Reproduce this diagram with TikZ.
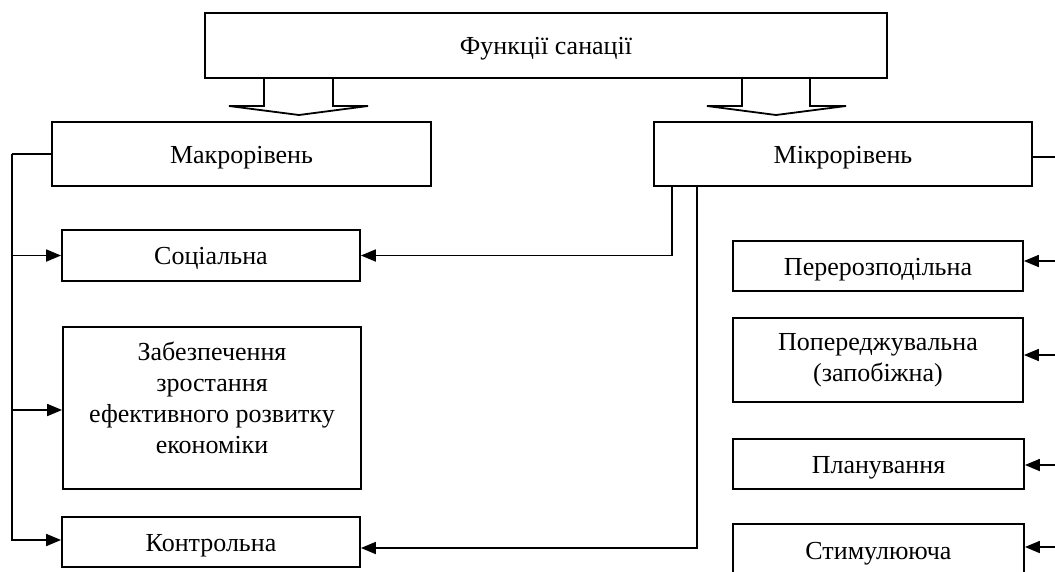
\documentclass[tikz,border=0pt]{standalone}
\usepackage{fontspec}
\setmainfont{Liberation Serif}
\usetikzlibrary{arrows.meta}

\begin{document}
\begin{tikzpicture}[x=1pt, y=-1pt,
    every node/.style={font=\fontsize{26}{31}\selectfont},
    box/.style={draw, line width=1.8pt, inner sep=0pt, align=center},
    oneline/.style={text height=18pt, text depth=0pt},
    line/.style={line width=1.8pt},
    arr/.style={line width=1.8pt, -{Triangle[length=15pt,width=12pt]}}]
    \useasboundingbox (0,0) rectangle (1055,571);

    % top
    \node[box, oneline, minimum width=682pt, minimum height=65pt] (top) at (546,45.5) {Функції санації};
    \node[box, oneline, minimum width=379pt, minimum height=64pt] (makro) at (241.5,154) {Макрорівень};
    \node[box, oneline, minimum width=378pt, minimum height=64pt] (mikro) at (843,154) {Мікрорівень};

    % hollow arrows
    \draw[line] (264,78) -- (264,106) -- (229,106) -- (299,115) -- (368,106) -- (333,106) -- (333,78);
    \draw[line] (742,78) -- (742,106) -- (707,106) -- (776,115) -- (846,106) -- (810,106) -- (810,78);

    % left side
    \node[box, oneline, minimum width=298pt, minimum height=51pt] (soc) at (211,255.5) {Соціальна};
    \node[box, minimum width=298pt, minimum height=162pt] (zabezp) at (212,408)
        {Забезпечення\\зростання\\ефективного розвитку\\економіки\\[-10pt]};
    \node[box, oneline, minimum width=298pt, minimum height=50pt] (kontr) at (211,542) {Контрольна};

    % right side
    \node[box, oneline, minimum width=290pt, minimum height=50pt] (perer) at (878,266) {Перерозподільна};
    \node[box, minimum width=290pt, minimum height=84pt] (poper) at (878,360) {Попереджувальна\\(запобіжна)};
    \node[box, oneline, minimum width=291pt, minimum height=50pt] (plan) at (878.5,464) {Планування};
    \node[box, oneline, minimum width=291pt, minimum height=52pt] (stym) at (878.5,550) {Стимулююча};

    % left bus
    \draw[line] (makro.west) -- ++(-39,0) coordinate (bus);
    \draw[arr] (bus) |- (soc.west);
    \draw[arr] (bus) |- ([yshift=-2pt]zabezp.west);
    \draw[arr] (bus) |- ([yshift=2pt]kontr.west);

    % from micro level to the left boxes
    \draw[arr] ([xshift=19pt]mikro.south west) |- (soc.east);
    \draw[arr] ([xshift=44pt]mikro.south west) |- ([yshift=-6pt]kontr.east);

    % right bus (cut off at the edge)
    \coordinate (r0) at (1055,157);
    \coordinate (r1) at (1055,261);
    \coordinate (r2) at (1055,355);
    \coordinate (r3) at (1055,465);
    \coordinate (r4) at (1055,547);
    \draw[line] ([yshift=-3pt]mikro.east) -- (r0);
    \draw[arr] (r1) -- (perer.east |- r1);
    \draw[arr] (r2) -- (poper.east |- r2);
    \draw[arr] (r3) -- (plan.east |- r3);
    \draw[arr] (r4) -- (stym.east |- r4);
\end{tikzpicture}
\end{document}
